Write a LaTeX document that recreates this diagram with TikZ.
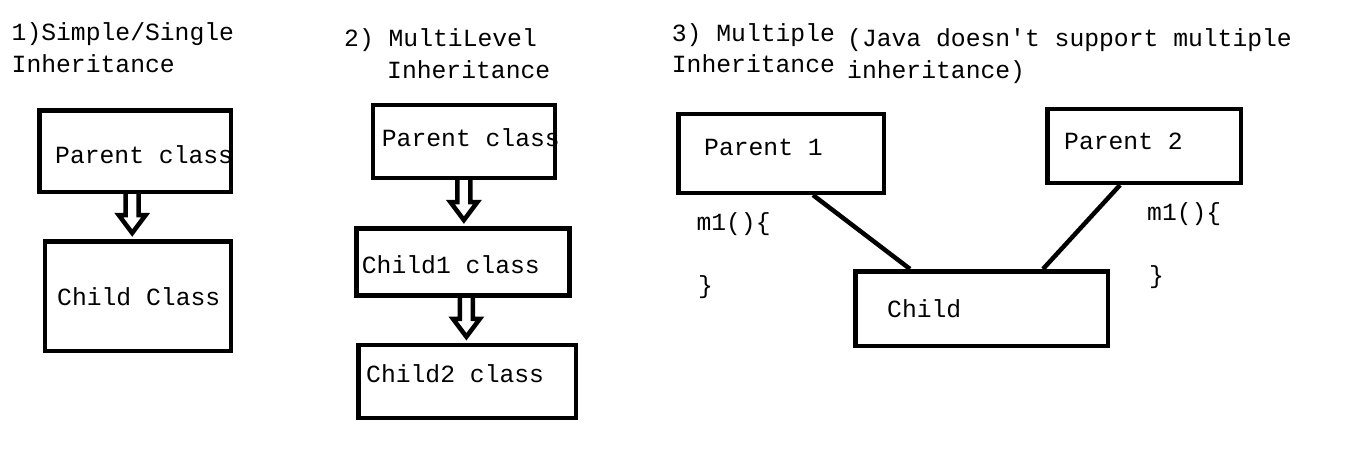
\documentclass[tikz,border=0pt]{standalone}
\usepackage{fontspec}
\setmonofont{Liberation Mono}
\usetikzlibrary{calc}
\tikzset{
  box/.style={draw, line width=4.5pt, rectangle, inner sep=0pt},
  txt/.style={anchor=base west, inner sep=0pt, font=\ttfamily\fontsize{24.7}{30}\selectfont},
  link/.style={line width=4.5pt},
  thick arrow/.style={line width=4.5pt, line join=miter},
  hollow/.style={to path={
    let \p1=(\tikztostart), \p2=(\tikztotarget) in
    (\x1-6.5pt,\y1) -- (\x1-6.5pt,\y2+24pt) -- (\x1-13.5pt,\y2+24pt) -- (\x1,\y2+6pt)
    -- (\x1+13.5pt,\y2+24pt) -- (\x1+6.5pt,\y2+24pt) -- (\x1+6.5pt,\y1)}}
}
\begin{document}
\begin{tikzpicture}[x=1pt,y=-1pt]
\useasboundingbox[fill=white] (0,0) rectangle (1360,459);

% Section 1
\node[txt] (t1a) at (11.5,40.7) {1)Simple/Single};
\node[txt] (t1b) at (11.5,72.7) {Inheritance};
\node[box, minimum width=191.2pt, minimum height=81.5pt] (b1) at (135.2,151) {};
\node[box, minimum width=185.8pt, minimum height=109.5pt] (c1) at (137.9,296) {};
\node[txt] (b1t) at (55,163) {Parent class};
\node[txt] (c1t) at (57,305) {Child Class};
\coordinate (a1s) at ([xshift=-3pt]b1.south);
\draw[thick arrow] (a1s) to[hollow] (c1.north);

% Section 2
\node[txt] (t2a) at (344,46) {2) MultiLevel};
\node[txt] (t2b) at (387,78) {Inheritance};
\node[box, minimum width=181.8pt, minimum height=72.8pt] (p2) at (463.9,141.4) {};
\node[box, minimum width=213.2pt, minimum height=67.2pt] (ch1) at (462.9,261.9) {};
\node[box, minimum width=217.5pt, minimum height=72.8pt] (ch2) at (467,381.4) {};
\node[txt] (p2t) at (381.7,146.7) {Parent class};
\node[txt] (ch1t) at (361.7,273) {Child1 class};
\node[txt] (ch2t) at (366,382) {Child2 class};
\draw[thick arrow] (p2.south) to[hollow] (ch1.north);
\coordinate (a3s) at ([xshift=3.5pt]ch1.south);
\draw[thick arrow] (a3s) to[hollow] (ch2.north);

% Section 3
\node[txt] (t3a) at (671.7,41.7) {3) Multiple};
\node[txt] (t3b) at (671.7,72.7) {Inheritance};
\node[txt] (t3c) at (847,46) {(Java doesn't support multiple};
\node[txt] (t3d) at (847,78) {inheritance)};
\node[box, minimum width=205.5pt, minimum height=78.8pt] (pa1) at (781,153.4) {};
\node[box, minimum width=193.5pt, minimum height=73.8pt] (pa2) at (1144,145.9) {};
\node[box, minimum width=252.5pt, minimum height=74.5pt] (chd) at (981.5,308.5) {};
\node[txt] (pa1t) at (704,155.7) {Parent 1};
\node[txt] (pa2t) at (1064,149) {Parent 2};
\node[txt] (chdt) at (887,317.7) {Child};
\node[txt] (m1a) at (696.3,230) {m1()\{};
\node[txt] (m1b) at (698,293) {\}};
\node[txt] (m2a) at (1147,220) {m1()\{};
\node[txt] (m2b) at (1149,283) {\}};
\draw[link] ([xshift=32pt]pa1.south) -- ([xshift=-71.5pt]chd.north);
\draw[link] ([xshift=-24pt]pa2.south) -- ([xshift=61.5pt]chd.north);
\end{tikzpicture}
\end{document}
